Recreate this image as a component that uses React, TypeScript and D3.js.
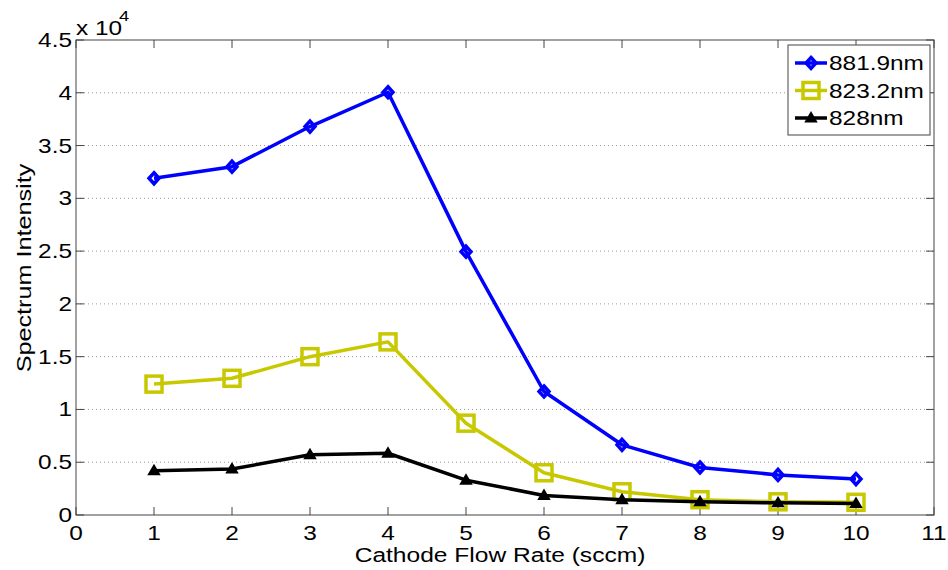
import React from "react";
import * as d3 from "d3";

const flowRates = [1, 2, 3, 4, 5, 6, 7, 8, 9, 10];
const s881 = [31900, 33000, 36800, 40050, 24950, 11700, 6650, 4500, 3800, 3400];
const s823 = [12400, 12950, 15000, 16400, 8700, 4000, 2200, 1450, 1250, 1200];
const s828 = [4200, 4350, 5700, 5850, 3300, 1850, 1450, 1250, 1150, 1100];
const xTicks = [0, 1, 2, 3, 4, 5, 6, 7, 8, 9, 10, 11];
const yTicks = [0, 5000, 10000, 15000, 20000, 25000, 30000, 35000, 40000, 45000];
const yTickLabels = ["0", "0.5", "1", "1.5", "2", "2.5", "3", "3.5", "4", "4.5"];
const seriesNames = ["881.9nm", "823.2nm", "828nm"];

const W = 948, H = 570;
const L = 76, R = 934, T = 40, B = 515;
const FONT = "Liberation Sans, Arial, sans-serif";

function Txt({ x, y, anchor = "start", size = 20, rot = 0, sx = 1.22, children }: any) {
  return (
    <text
      transform={`translate(${x},${y}) rotate(${rot}) scale(${sx},1)`}
      textAnchor={anchor}
      fontSize={size}
      fill="#000"
    >
      {children}
    </text>
  );
}

export default function App() {
  const x = d3.scaleLinear().domain([0, 11]).range([L, R]);
  const y = d3.scaleLinear().domain([0, 45000]).range([B, T]);
  const line = d3.line<number>().x((_, i) => x(flowRates[i])).y((d) => y(d));

  const series = [
    { name: seriesNames[0], data: s881, color: "#0000ff", marker: "diamond" },
    { name: seriesNames[1], data: s823, color: "#c8c800", marker: "square" },
    { name: seriesNames[2], data: s828, color: "#000000", marker: "triangle" },
  ];

  const marker = (m: string, cx: number, cy: number, color: string, key: any) => {
    if (m === "diamond") {
      const s = 5.5;
      return <path key={key} d={`M${cx},${cy - s}L${cx + s * 0.9},${cy}L${cx},${cy + s}L${cx - s * 0.9},${cy}Z`} fill="none" stroke={color} strokeWidth={3.5} />;
    }
    if (m === "square") {
      const s = 8;
      return <rect key={key} x={cx - s} y={cy - s} width={2 * s} height={2 * s} fill="none" stroke={color} strokeWidth={3.5} />;
    }
    const s = 5;
    return <path key={key} d={`M${cx},${cy - s}L${cx + s},${cy + s * 0.7}L${cx - s},${cy + s * 0.7}Z`} fill={color} stroke={color} strokeWidth={2} />;
  };

  return (
    <svg width={W} height={H} style={{ position: "absolute", left: 0, top: 0, background: "#fff" }} fontFamily={FONT}>
      <rect x={0} y={0} width={W} height={H} fill="#fff" />
      {yTicks.slice(1, -1).map((t) => (
        <line key={"g" + t} x1={L} x2={R} y1={y(t)} y2={y(t)} stroke="#999" strokeWidth={1} strokeDasharray="1,3" />
      ))}
      <rect x={L} y={T} width={R - L} height={B - T} fill="none" stroke="#444" strokeWidth={1} />
      {xTicks.map((t) => (
        <g key={"x" + t}>
          <line x1={x(t)} x2={x(t)} y1={B} y2={B - 8} stroke="#444" />
          <line x1={x(t)} x2={x(t)} y1={T} y2={T + 8} stroke="#444" />
          <Txt x={x(t)} y={540} anchor="middle">{t}</Txt>
        </g>
      ))}
      {yTicks.map((t, i) => (
        <g key={"y" + t}>
          <line x1={L} x2={L + 8} y1={y(t)} y2={y(t)} stroke="#444" />
          <line x1={R} x2={R - 8} y1={y(t)} y2={y(t)} stroke="#444" />
          <Txt x={72} y={y(t) + 7} anchor="end">{yTickLabels[i]}</Txt>
        </g>
      ))}
      <Txt x={76} y={35}>x 10</Txt>
      <Txt x={119} y={21} size={15}>4</Txt>
      <Txt x={500} y={562} anchor="middle" size={21} sx={1.17}>Cathode Flow Rate (sccm)</Txt>
      <Txt x={31} y={268} anchor="middle" rot={-90} size={21} sx={1.2}>Spectrum Intensity</Txt>
      {series.map((s) => (
        <g key={s.name}>
          <path d={line(s.data) || ""} fill="none" stroke={s.color} strokeWidth={3.5} strokeLinejoin="round" />
          {s.data.map((v, i) => marker(s.marker, x(flowRates[i]), y(v), s.color, i))}
        </g>
      ))}
      <rect x={788} y={45} width={142} height={90} fill="#fff" stroke="#444" strokeWidth={1} />
      {series.map((s, i) => {
        const cy = 63 + i * 27.5;
        return (
          <g key={"l" + s.name}>
            <line x1={795} x2={827} y1={cy} y2={cy} stroke={s.color} strokeWidth={3.5} />
            {marker(s.marker, 811, cy, s.color, "m")}
            <Txt x={829} y={cy + 7}>{s.name}</Txt>
          </g>
        );
      })}
    </svg>
  );
}
